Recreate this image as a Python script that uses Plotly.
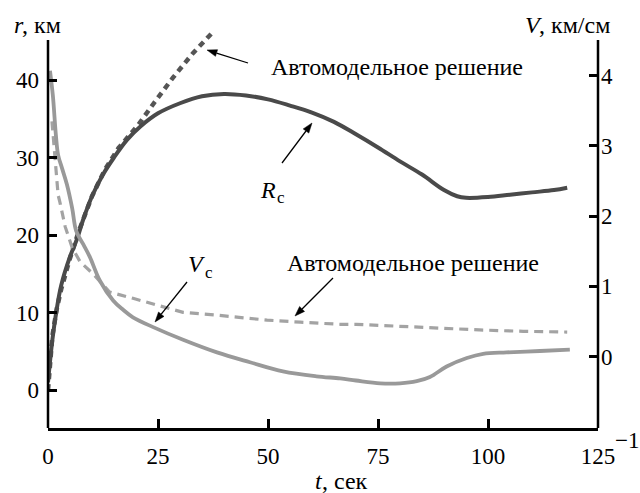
import plotly.graph_objects as go

# Data
t_Rc = [0, 1, 2, 3, 5, 6.6, 8, 10, 12.5, 15, 18, 21, 25, 30, 35, 40, 45, 50, 55, 60, 65, 70, 75, 80, 85, 90, 93, 95, 100, 105, 110, 115, 118]
Rc = [1, 6.5, 10.5, 13.5, 17.2, 19.5, 22, 25, 27.8, 30, 32.3, 34, 35.7, 37, 37.9, 38.2, 38.0, 37.5, 36.7, 35.8, 34.6, 33.0, 31.3, 29.5, 27.8, 25.8, 25.0, 24.8, 24.9, 25.2, 25.5, 25.8, 26.1]

t_Ra = [0, 0.5, 1, 2, 3, 5, 7, 10, 13, 16, 20.5, 24.3, 28.4, 33, 37.5]
Ra = [0, 4, 7, 10.5, 13, 17, 20.5, 25, 28.5, 31.2, 34.2, 37.2, 40.3, 43.5, 46.2]

t_Vc = [0.45, 1.1, 1.8, 2.3, 3.2, 4.3, 5.5, 6.4, 8, 9.5, 11.8, 14.8, 17, 19.3, 23.9, 30.7, 38.4, 45.9, 53.4, 61, 66.4, 70, 75.5, 80, 83.8, 86.8, 90.6, 95.2, 98.9, 104.2, 111.8, 118.6]
Vc = [4.07, 3.72, 3.15, 2.87, 2.68, 2.45, 2.11, 1.79, 1.6, 1.42, 1.08, 0.80, 0.67, 0.56, 0.42, 0.24, 0.06, -0.08, -0.21, -0.28, -0.31, -0.34, -0.38, -0.38, -0.35, -0.29, -0.14, -0.02, 0.04, 0.06, 0.08, 0.10]

t_Va = [0.9, 1.6, 2.3, 2.7, 3.9, 5.5, 7.3, 10.2, 14, 19.3, 24.7, 30.7, 38.4, 49.8, 57.3, 66.4, 70, 80, 90, 98, 108, 118]
Va = [3.35, 2.8, 2.3, 2.2, 1.85, 1.55, 1.35, 1.18, 0.92, 0.83, 0.73, 0.63, 0.59, 0.52, 0.49, 0.46, 0.46, 0.43, 0.40, 0.38, 0.36, 0.35]

x_ticks = [0, 25, 50, 75, 100, 125]
r_ticks = [0, 10, 20, 30, 40]
v_ticks = [0, 1, 2, 3, 4]

FONT = "Liberation Serif"
TICK = 23
LBL = 24

# plot area geometry (pixels): x 48..598, y 28..428
L, R, T, B = 48, 598, 28, 428
def px2paper(px, py):
    return (px - L) / (R - L), (B - py) / (B - T)

fig = go.Figure()
fig.add_trace(go.Scatter(x=t_Va, y=Va, yaxis="y2", mode="lines",
                         line=dict(color="#a3a3a3", width=3.2, dash="9px,6px"), showlegend=False))
fig.add_trace(go.Scatter(x=t_Vc, y=Vc, yaxis="y2", mode="lines", line_shape="spline",
                         line=dict(color="#999999", width=3.8), showlegend=False))
fig.add_trace(go.Scatter(x=t_Ra, y=Ra, mode="lines",
                         line=dict(color="#555555", width=4.5, dash="6px,5px"), showlegend=False))
fig.add_trace(go.Scatter(x=t_Rc, y=Rc, mode="lines", line_shape="spline",
                         line=dict(color="#4a4a4a", width=4), showlegend=False))

def axis_common(showline):
    return dict(showline=showline, linecolor="black", linewidth=2.5, ticks="inside",
                ticklen=9, tickwidth=2.5, tickcolor="black", showgrid=False, zeroline=False,
                tickfont=dict(family=FONT, size=TICK, color="black"))

ann = []
def ptxt(px, py, s, xanchor="center", size=LBL, style="normal"):
    x, y = px2paper(px, py)
    ann.append(dict(x=x, y=y, xref="paper", yref="paper", text=s, showarrow=False,
                    xanchor=xanchor, yanchor="middle",
                    font=dict(family=FONT, size=size, color="black", style=style)))

shapes = [
    dict(type="line", xref="paper", yref="paper", x0=0, x1=0, y0=0, y1=px2paper(0, 40)[1],
         line=dict(color="black", width=2.5)),
    dict(type="line", xref="paper", yref="paper", x0=1, x1=1, y0=0, y1=px2paper(0, 40)[1],
         line=dict(color="black", width=2.5)),
]

def arrow(tip, tail, head=10, half=3.5):
    tx, ty = tip
    sx, sy = tail
    dx, dy = tx - sx, ty - sy
    n = (dx * dx + dy * dy) ** 0.5
    ux, uy = dx / n, dy / n
    bx, by = tx - ux * head, ty - uy * head
    p1 = (bx - uy * half, by + ux * half)
    p2 = (bx + uy * half, by - ux * half)
    a0 = px2paper(sx, sy)
    a1 = px2paper(bx, by)
    shapes.append(dict(type="line", xref="paper", yref="paper", x0=a0[0], y0=a0[1], x1=a1[0], y1=a1[1],
                       line=dict(color="black", width=1.3)))
    pts = [px2paper(tx, ty), px2paper(*p1), px2paper(*p2)]
    path = "M {:.5f},{:.5f} L {:.5f},{:.5f} L {:.5f},{:.5f} Z".format(
        pts[0][0], pts[0][1], pts[1][0], pts[1][1], pts[2][0], pts[2][1])
    shapes.append(dict(type="path", xref="paper", yref="paper", path=path,
                       fillcolor="black", line=dict(color="black", width=0.5)))

# curve labels and arrows
ptxt(397, 67, "Автомодельное решение")
arrow((207, 50), (248, 63))
ptxt(268, 190, "R", style="italic")
ptxt(281, 197, "c", size=17)
arrow((312, 123), (282, 163))
ptxt(196, 264, "V", style="italic")
ptxt(209, 272, "c", size=17)
arrow((155, 322), (187, 282))
ptxt(413, 263, "Автомодельное решение")
arrow((295, 316), (333, 278))

# axis titles
ptxt(12, 25, "r", xanchor="left", style="italic")
ptxt(20, 25, ", км", xanchor="left")
ptxt(523, 25, "V", xanchor="left", style="italic")
ptxt(537, 25, ", км/см", xanchor="left")
ptxt(313, 481, "t", xanchor="left", style="italic")
ptxt(320, 481, ", сек", xanchor="left")
ptxt(627, 440, "−1", size=TICK)

fig.update_layout(
    template="none",
    width=640, height=493,
    margin=dict(l=L, r=640 - R, t=T, b=493 - B, pad=0),
    paper_bgcolor="white", plot_bgcolor="white",
    font=dict(family=FONT, color="black"),
    xaxis=dict(range=[0, 125], tickvals=x_ticks, ticklabelstandoff=6, **axis_common(True)),
    yaxis=dict(range=[-4.903, 46.71], tickvals=r_ticks, ticklabelstandoff=8, **axis_common(False)),
    yaxis2=dict(range=[-1.016, 4.678], tickvals=v_ticks, overlaying="y", side="right",
                ticklabelstandoff=2, **axis_common(False)),
    annotations=ann,
    shapes=shapes,
)

fig.write_html("out.html")
